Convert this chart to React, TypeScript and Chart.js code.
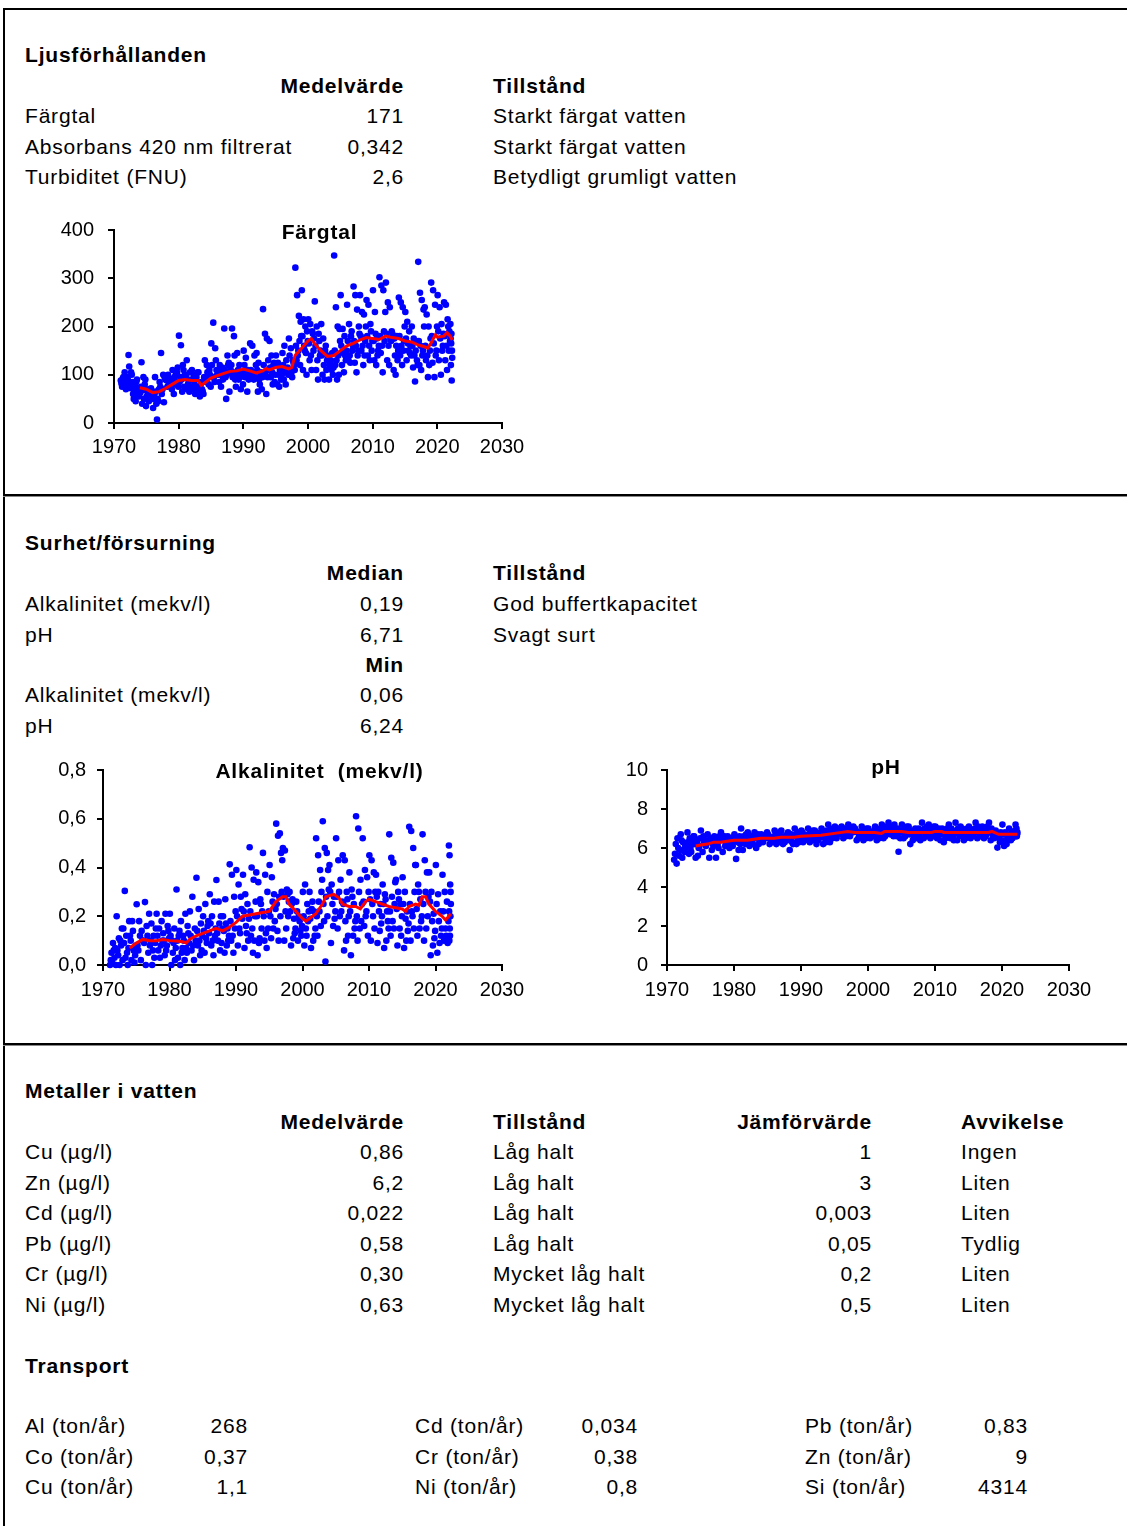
import React, { useEffect, useRef } from "react";
import { Chart, registerables } from "chart.js";

Chart.register(...registerables);

const FONT = '"Liberation Sans", Arial, Helvetica, sans-serif';
const PAGE_W = 1127;
const PAGE_H = 1526;

// ---------- tick labels ----------
const yearTicks = [1970, 1980, 1990, 2000, 2010, 2020, 2030];
const fargtalTicks = [0, 100, 200, 300, 400];
const alkTicks = [0, 0.2, 0.4, 0.6, 0.8];
const phTicks = [0, 2, 4, 6, 8, 10];

// ---------- table texts ----------
const ljusRows = [
  ["Färgtal", "171", "Starkt färgat vatten"],
  ["Absorbans 420 nm filtrerat", "0,342", "Starkt färgat vatten"],
  ["Turbiditet (FNU)", "2,6", "Betydligt grumligt vatten"],
];
const surhetMedianRows = [
  ["Alkalinitet (mekv/l)", "0,19", "God buffertkapacitet"],
  ["pH", "6,71", "Svagt surt"],
];
const surhetMinRows = [
  ["Alkalinitet (mekv/l)", "0,06"],
  ["pH", "6,24"],
];
const metallRows = [
  ["Cu (µg/l)", "0,86", "Låg halt", "1", "Ingen"],
  ["Zn (µg/l)", "6,2", "Låg halt", "3", "Liten"],
  ["Cd (µg/l)", "0,022", "Låg halt", "0,003", "Liten"],
  ["Pb (µg/l)", "0,58", "Låg halt", "0,05", "Tydlig"],
  ["Cr (µg/l)", "0,30", "Mycket låg halt", "0,2", "Liten"],
  ["Ni (µg/l)", "0,63", "Mycket låg halt", "0,5", "Liten"],
];
const transportRows = [
  ["Al (ton/år)", "268", "Cd (ton/år)", "0,034", "Pb (ton/år)", "0,83"],
  ["Co (ton/år)", "0,37", "Cr (ton/år)", "0,38", "Zn (ton/år)", "9"],
  ["Cu (ton/år)", "1,1", "Ni (ton/år)", "0,8", "Si (ton/år)", "4314"],
];

// ---------- series: samples per year (spread through the year) ----------
const LAST_YEAR = 2022;
const LAST_YEAR_SPAN = 0.32;

const fargtalSamples: [number, number[]][] = [
  [1971, [88, 82, 75, 92, 95, 80, 105, 78, 70, 85]],
  [1972, [95, 90, 141, 117, 78, 72, 105, 100, 85, 60]],
  [1973, [50, 65, 75, 45, 85, 90, 60, 58, 55, 70]],
  [1974, [62, 75, 126, 40, 68, 95, 50, 80, 90, 35]],
  [1975, [55, 65, 70, 45, 62, 60, 72, 58, 50]],
  [1976, [31, 55, 60, 95, 65, 40, 7, 50, 45, 70]],
  [1977, [85, 75, 145, 60, 70, 100, 43, 95, 90]],
  [1978, [95, 88, 75, 100, 78, 80, 92, 90, 85, 70]],
  [1979, [110, 90, 60, 95, 80, 100, 85, 105, 115, 75]],
  [1980, [181, 85, 95, 161, 90, 65, 120, 110, 75, 100]],
  [1981, [100, 95, 130, 70, 80, 85, 65, 105, 75, 90]],
  [1982, [110, 90, 70, 100, 80, 60, 75, 95, 65, 105]],
  [1983, [105, 75, 55, 80, 85, 70, 65, 60, 95]],
  [1984, [130, 90, 85, 120, 105, 95, 80, 110, 100, 75]],
  [1985, [165, 120, 95, 208, 95, 85, 155, 130, 110, 100]],
  [1986, [100, 105, 85, 120, 100, 75, 110, 115, 90, 95]],
  [1987, [196, 110, 95, 50, 100, 140, 120, 125, 65, 105]],
  [1988, [110, 120, 196, 95, 105, 180, 140, 90, 75, 100]],
  [1989, [145, 110, 90, 120, 95, 70, 100, 105, 80]],
  [1990, [150, 120, 95, 135, 105, 65, 110, 90, 100]],
  [1991, [165, 110, 100, 160, 105, 90, 140, 95, 120]],
  [1992, [145, 110, 65, 125, 90, 80, 100, 105, 70, 95]],
  [1993, [236, 120, 100, 185, 105, 60, 175, 95, 130, 110]],
  [1994, [170, 115, 95, 140, 105, 80, 120, 125, 85, 100]],
  [1995, [140, 120, 80, 125, 100, 75, 110, 115, 90, 100]],
  [1996, [145, 120, 90, 160, 110, 80, 130, 105, 115, 100]],
  [1997, [175, 140, 100, 155, 105, 95, 130, 125, 120, 110]],
  [1998, [322, 160, 130, 265, 140, 150, 222, 170, 120, 210, 180]],
  [1999, [275, 180, 110, 215, 160, 150, 200, 145, 100, 190, 170]],
  [2000, [215, 165, 130, 205, 140, 110, 190, 185, 150, 175]],
  [2001, [252, 160, 110, 200, 130, 90, 185, 170, 140, 150]],
  [2002, [205, 140, 100, 175, 120, 90, 150, 160, 110, 130]],
  [2003, [140, 135, 90, 120, 125, 130, 110, 145, 100, 115]],
  [2004, [347, 150, 120, 240, 130, 90, 200, 140, 100, 195, 170]],
  [2005, [265, 160, 120, 195, 145, 105, 180, 140, 130, 150]],
  [2006, [245, 170, 130, 205, 140, 125, 180, 190, 150, 160]],
  [2007, [283, 170, 125, 265, 160, 105, 235, 140, 150, 200, 185]],
  [2008, [265, 180, 150, 230, 160, 120, 225, 140, 170, 200]],
  [2009, [255, 180, 140, 245, 160, 130, 205, 190, 150, 170]],
  [2010, [275, 170, 130, 230, 185, 120, 175, 140, 150, 160]],
  [2011, [302, 180, 145, 285, 160, 105, 275, 190, 170, 230]],
  [2012, [291, 185, 130, 250, 160, 120, 240, 175, 170, 190]],
  [2013, [185, 175, 110, 175, 140, 100, 160, 180, 130, 150]],
  [2014, [260, 180, 140, 250, 160, 120, 240, 150, 170, 200]],
  [2015, [230, 175, 130, 210, 165, 150, 190, 145, 160, 140]],
  [2016, [200, 160, 115, 175, 140, 86, 150, 170, 130, 120]],
  [2017, [334, 170, 120, 270, 160, 110, 255, 140, 150, 235, 200]],
  [2018, [240, 160, 130, 225, 140, 95, 200, 120, 150, 175]],
  [2019, [291, 180, 125, 275, 165, 95, 245, 140, 150, 200]],
  [2020, [265, 190, 130, 240, 175, 100, 205, 150, 160, 185]],
  [2021, [250, 180, 130, 245, 160, 110, 215, 200, 150, 190, 170]],
  [2022, [205, 175, 120, 165, 185, 88, 150, 135]],
];

const fargtalTrend: [number, number][] = [
  [1974.0, 73], [1975.0, 70], [1976.0, 63], [1977.0, 65], [1978.0, 72], [1979.0, 80],
  [1980.0, 88], [1981.0, 90], [1982.0, 88], [1983.0, 88], [1983.5, 78], [1984.0, 83],
  [1985.0, 93], [1986.0, 98], [1987.0, 103], [1988.0, 107], [1989.0, 108], [1990.0, 112],
  [1991.0, 108], [1992.0, 104], [1993.0, 108], [1993.5, 113], [1994.0, 110], [1995.0, 115],
  [1996.0, 117], [1997.0, 112], [1997.5, 115], [1998.0, 140], [1999.0, 155], [2000.0, 170],
  [2000.5, 175], [2001.0, 165], [2002.0, 150], [2003.0, 138], [2004.0, 140], [2004.5, 145],
  [2005.0, 150], [2006.0, 160], [2007.0, 165], [2008.0, 172], [2009.0, 177], [2010.0, 175],
  [2011.0, 173], [2012.0, 180], [2013.0, 177], [2014.0, 175], [2015.0, 170], [2016.0, 168],
  [2017.0, 162], [2018.0, 158], [2018.5, 155], [2019.0, 165], [2019.7, 183], [2020.0, 178],
  [2021.0, 180], [2021.5, 187], [2022.0, 180], [2022.3, 172],
];

const alkSamples: [number, number[]][] = [
  [1971, [0.0, 0.02, 0.05, 0.01, 0.09, 0.06, 0.03, 0.07, 0.0]],
  [1972, [0.2, 0.06, 0.04, 0.11, 0.0, 0.1, 0.08, 0.15, 0.02]],
  [1973, [0.15, 0.09, 0.304, 0.03, 0.12, 0.05, 0.0, 0.07, 0.18]],
  [1974, [0.12, 0.1, 0.02, 0.18, 0.14, 0.06, 0.01, 0.04, 0.08]],
  [1975, [0.249, 0.08, 0.06, 0.18, 0.12, 0.02, 0.14, 0.1]],
  [1976, [0.1, 0.09, 0.258, 0.0, 0.16, 0.12, 0.05, 0.21]],
  [1977, [0.08, 0.1, 0.17, 0.0, 0.06, 0.12, 0.03, 0.09, 0.15]],
  [1978, [0.21, 0.12, 0.06, 0.15, 0.03, 0.08, 0.18, 0.1]],
  [1979, [0.13, 0.1, 0.04, 0.21, 0.06, 0.08, 0.16, 0.14, 0.11]],
  [1980, [0.21, 0.12, 0.0, 0.1, 0.05, 0.09, 0.15, 0.02, 0.07]],
  [1981, [0.31, 0.1, 0.03, 0.12, 0.14, 0.0, 0.18, 0.05, 0.07]],
  [1982, [0.12, 0.1, 0.02, 0.21, 0.07, 0.05, 0.16, 0.13, 0.09]],
  [1983, [0.22, 0.12, 0.06, 0.28, 0.08, 0.02, 0.15, 0.1]],
  [1984, [0.358, 0.14, 0.08, 0.23, 0.1, 0.04, 0.17, 0.06, 0.12]],
  [1985, [0.2, 0.14, 0.05, 0.25, 0.11, 0.09, 0.16, 0.18, 0.13]],
  [1986, [0.29, 0.17, 0.08, 0.2, 0.1, 0.04, 0.26, 0.12, 0.15]],
  [1987, [0.349, 0.13, 0.1, 0.26, 0.17, 0.06, 0.2, 0.09, 0.15]],
  [1988, [0.2, 0.14, 0.05, 0.27, 0.17, 0.08, 0.15, 0.1, 0.12]],
  [1989, [0.413, 0.18, 0.1, 0.37, 0.12, 0.05, 0.28, 0.15, 0.22]],
  [1990, [0.39, 0.2, 0.08, 0.33, 0.15, 0.13, 0.28, 0.23, 0.19]],
  [1991, [0.37, 0.22, 0.07, 0.29, 0.16, 0.13, 0.25, 0.1, 0.19]],
  [1992, [0.483, 0.22, 0.12, 0.4, 0.15, 0.05, 0.35, 0.1, 0.2, 0.26]],
  [1993, [0.38, 0.2, 0.04, 0.34, 0.09, 0.11, 0.27, 0.25, 0.15, 0.22]],
  [1994, [0.46, 0.2, 0.1, 0.37, 0.13, 0.07, 0.3, 0.15, 0.22]],
  [1995, [0.41, 0.2, 0.11, 0.36, 0.26, 0.15, 0.29, 0.18, 0.23]],
  [1996, [0.58, 0.25, 0.14, 0.53, 0.1, 0.28, 0.54, 0.2, 0.46, 0.3, 0.43]],
  [1997, [0.48, 0.28, 0.1, 0.47, 0.22, 0.15, 0.31, 0.29, 0.2, 0.26]],
  [1998, [0.3, 0.22, 0.08, 0.25, 0.27, 0.11, 0.19, 0.13, 0.15]],
  [1999, [0.26, 0.22, 0.1, 0.2, 0.18, 0.14, 0.12, 0.16]],
  [2000, [0.3, 0.2, 0.08, 0.33, 0.15, 0.12, 0.25, 0.18, 0.22]],
  [2001, [0.3, 0.19, 0.07, 0.23, 0.26, 0.1, 0.22, 0.12, 0.15]],
  [2002, [0.52, 0.2, 0.12, 0.45, 0.26, 0.22, 0.39, 0.16, 0.3, 0.35]],
  [2003, [0.59, 0.25, 0.18, 0.48, 0.014, 0.28, 0.46, 0.2, 0.39, 0.31]],
  [2004, [0.41, 0.3, 0.09, 0.33, 0.25, 0.16, 0.28, 0.19, 0.22]],
  [2005, [0.52, 0.28, 0.15, 0.43, 0.3, 0.2, 0.35, 0.22, 0.26]],
  [2006, [0.45, 0.25, 0.06, 0.43, 0.18, 0.1, 0.3, 0.27, 0.12, 0.2]],
  [2007, [0.38, 0.22, 0.04, 0.31, 0.28, 0.12, 0.25, 0.15, 0.18]],
  [2008, [0.61, 0.2, 0.1, 0.56, 0.3, 0.15, 0.35, 0.18, 0.25]],
  [2009, [0.52, 0.26, 0.16, 0.39, 0.2, 0.22, 0.36, 0.12, 0.3]],
  [2010, [0.45, 0.27, 0.1, 0.43, 0.25, 0.2, 0.38, 0.15, 0.3]],
  [2011, [0.37, 0.28, 0.09, 0.3, 0.22, 0.14, 0.25, 0.17, 0.2]],
  [2012, [0.33, 0.25, 0.07, 0.29, 0.27, 0.1, 0.22, 0.18, 0.15]],
  [2013, [0.536, 0.22, 0.12, 0.44, 0.28, 0.18, 0.42, 0.15, 0.25, 0.34]],
  [2014, [0.35, 0.23, 0.08, 0.3, 0.27, 0.15, 0.25, 0.12, 0.2]],
  [2015, [0.36, 0.25, 0.07, 0.3, 0.19, 0.1, 0.22, 0.14, 0.17]],
  [2016, [0.567, 0.25, 0.1, 0.55, 0.22, 0.2, 0.48, 0.15, 0.3, 0.41]],
  [2017, [0.41, 0.23, 0.12, 0.33, 0.3, 0.15, 0.27, 0.18, 0.2]],
  [2018, [0.536, 0.25, 0.1, 0.43, 0.3, 0.15, 0.38, 0.2, 0.28]],
  [2019, [0.38, 0.26, 0.04, 0.3, 0.18, 0.08, 0.21, 0.11, 0.14]],
  [2020, [0.41, 0.25, 0.05, 0.29, 0.18, 0.09, 0.22, 0.12, 0.15]],
  [2021, [0.37, 0.22, 0.1, 0.3, 0.15, 0.12, 0.26, 0.09, 0.18]],
  [2022, [0.49, 0.22, 0.1, 0.45, 0.15, 0.12, 0.33, 0.2, 0.3, 0.25]],
];

const alkTrend: [number, number][] = [
  [1974.0, 0.07], [1975.0, 0.09], [1976.0, 0.105], [1977.0, 0.1], [1978.0, 0.1], [1979.0, 0.105],
  [1980.0, 0.1], [1981.0, 0.098], [1982.0, 0.095], [1982.5, 0.09], [1983.0, 0.105], [1984.0, 0.12],
  [1985.0, 0.13], [1986.0, 0.14], [1987.0, 0.15], [1988.0, 0.14], [1989.0, 0.155], [1990.0, 0.175],
  [1991.0, 0.2], [1992.0, 0.205], [1993.0, 0.21], [1994.0, 0.215], [1995.0, 0.22], [1996.0, 0.26],
  [1997.0, 0.28], [1997.5, 0.28], [1998.0, 0.25], [1999.0, 0.22], [2000.0, 0.19], [2000.5, 0.18],
  [2001.0, 0.19], [2002.0, 0.21], [2003.0, 0.25], [2003.5, 0.28], [2004.7, 0.29], [2005.5, 0.275],
  [2006.0, 0.25], [2007.0, 0.24], [2008.0, 0.24], [2008.7, 0.23], [2009.5, 0.26], [2010.0, 0.27],
  [2011.0, 0.26], [2012.0, 0.25], [2013.0, 0.24], [2014.0, 0.235], [2015.0, 0.23], [2015.5, 0.22],
  [2016.0, 0.24], [2017.0, 0.25], [2017.5, 0.245], [2018.0, 0.28], [2018.5, 0.28], [2019.0, 0.25],
  [2020.0, 0.22], [2021.0, 0.2], [2021.5, 0.185], [2022.0, 0.2], [2022.3, 0.21],
];

const phSamples: [number, number[]][] = [
  [1971, [5.4, 5.7, 6.2, 5.2, 6.5, 6.0, 5.6, 5.9]],
  [1972, [6.7, 6.4, 5.5, 6.3, 5.9, 5.8, 6.1, 6.0, 6.2]],
  [1973, [6.8, 6.3, 5.7, 6.5, 6.0, 5.8, 6.4, 6.2, 6.6]],
  [1974, [6.6, 6.2, 5.5, 6.4, 6.3, 5.6, 6.0, 6.1, 6.5]],
  [1975, [6.9, 6.5, 5.8, 6.6, 6.3, 6.2, 6.1, 6.4]],
  [1976, [6.7, 6.3, 5.5, 6.4, 6.5, 5.9, 6.2, 6.1]],
  [1977, [6.6, 6.4, 5.5, 6.3, 6.2, 6.0, 6.6, 6.5]],
  [1978, [6.8, 6.4, 5.8, 6.5, 6.6, 6.1, 6.2, 6.3]],
  [1979, [6.6, 6.3, 6.0, 6.4, 6.5, 6.2, 6.1, 6.5]],
  [1980, [6.7, 6.5, 5.44, 6.4, 6.3, 5.9, 6.6, 6.2]],
  [1981, [7.0, 6.5, 5.9, 6.6, 6.3, 6.2, 6.7, 6.4]],
  [1982, [6.8, 6.4, 6.1, 6.5, 6.6, 6.3, 6.2, 6.6]],
  [1983, [6.8, 6.5, 6.0, 6.6, 6.7, 6.2, 6.3, 6.4]],
  [1984, [6.7, 6.4, 6.3, 6.5, 6.6, 6.6, 6.5, 6.8]],
  [1985, [6.7, 6.6, 6.2, 6.5, 6.3, 6.4, 6.5, 6.6]],
  [1986, [6.9, 6.6, 6.2, 6.7, 6.4, 6.3, 6.8, 6.5]],
  [1987, [6.9, 6.5, 6.2, 6.6, 6.3, 6.4, 6.6, 6.7]],
  [1988, [6.8, 6.4, 5.9, 6.5, 6.7, 6.3, 6.2, 6.6]],
  [1989, [7.0, 6.6, 6.2, 6.8, 6.4, 6.3, 6.7, 6.5]],
  [1990, [6.9, 6.8, 6.3, 6.7, 6.4, 6.5, 6.6, 6.6]],
  [1991, [7.0, 6.7, 6.3, 6.8, 6.5, 6.4, 6.9, 6.6]],
  [1992, [6.9, 6.6, 6.2, 6.7, 6.4, 6.5, 6.7, 6.8]],
  [1993, [7.0, 6.7, 6.2, 6.8, 6.5, 6.3, 6.9, 6.6]],
  [1994, [7.2, 6.6, 6.3, 7.0, 6.9, 6.5, 6.7, 6.8]],
  [1995, [7.1, 6.6, 6.5, 6.9, 7.0, 6.7, 6.8, 6.8]],
  [1996, [7.1, 6.8, 6.5, 6.9, 7.0, 6.6, 6.7, 6.7]],
  [1997, [7.2, 6.7, 6.6, 7.0, 6.9, 6.8, 7.1, 6.9]],
  [1998, [7.0, 6.9, 6.4, 6.8, 6.5, 6.6, 6.8, 6.7]],
  [1999, [7.1, 6.8, 6.4, 6.9, 6.6, 6.5, 7.0, 6.7]],
  [2000, [7.0, 6.7, 6.5, 6.8, 6.8, 6.6, 6.6, 6.9]],
  [2001, [7.1, 6.8, 6.4, 6.9, 6.6, 6.5, 7.0, 6.7]],
  [2002, [7.2, 6.8, 6.5, 7.0, 6.6, 6.7, 7.1, 6.9]],
  [2003, [7.3, 6.8, 6.7, 7.1, 7.0, 6.9, 6.6, 7.2]],
  [2004, [7.0, 6.7, 6.6, 7.0, 5.81, 6.8, 6.5, 6.9]],
  [2005, [7.2, 6.8, 6.5, 7.0, 6.6, 6.7, 7.1, 6.9]],
  [2006, [7.1, 6.7, 6.2, 6.9, 6.8, 6.4, 6.5, 6.6]],
  [2007, [7.0, 6.7, 6.5, 6.8, 7.0, 6.6, 6.4, 6.9]],
  [2008, [7.3, 6.9, 6.5, 7.0, 6.7, 6.6, 7.1, 6.8]],
  [2009, [7.2, 6.9, 6.5, 7.0, 6.7, 6.6, 7.1, 6.8]],
  [2010, [7.1, 6.6, 6.5, 6.9, 7.0, 6.7, 6.4, 6.8]],
  [2011, [7.0, 6.7, 6.3, 6.8, 6.5, 6.6, 7.0, 6.9]],
  [2012, [7.2, 6.9, 6.5, 7.0, 6.7, 6.6, 6.4, 6.8]],
  [2013, [7.3, 6.9, 6.4, 7.0, 6.7, 6.6, 7.1, 6.8]],
  [2014, [7.0, 6.7, 6.4, 6.8, 6.5, 6.6, 7.0, 6.9]],
  [2015, [7.1, 6.8, 6.5, 6.9, 6.6, 6.7, 6.9, 7.0]],
  [2016, [7.3, 6.8, 6.5, 7.1, 7.0, 6.9, 6.6, 6.7]],
  [2017, [7.1, 6.8, 6.5, 6.9, 6.6, 6.7, 7.1, 7.0]],
  [2018, [7.3, 6.9, 6.4, 7.0, 6.7, 6.6, 6.5, 6.8]],
  [2019, [6.9, 6.7, 6.02, 6.6, 6.5, 6.3, 6.8, 6.4]],
  [2020, [7.2, 6.7, 6.1, 6.8, 6.4, 6.2, 6.6, 6.5]],
  [2021, [7.0, 6.7, 6.4, 6.8, 6.5, 6.6, 6.8, 6.9]],
  [2022, [7.2, 6.9, 6.6, 7.0, 6.6, 6.7, 6.8]],
];

const phTrend: [number, number][] = [
  [1974.3, 6.1], [1975.0, 6.15], [1976.0, 6.2], [1977.0, 6.3], [1978.0, 6.3], [1979.0, 6.35],
  [1980.0, 6.4], [1982.0, 6.4], [1983.0, 6.45], [1984.0, 6.5], [1986.0, 6.5], [1987.0, 6.55],
  [1989.0, 6.55], [1990.0, 6.6], [1993.0, 6.65], [1995.0, 6.75], [1997.0, 6.85], [1998.0, 6.8],
  [2001.0, 6.8], [2002.0, 6.75], [2002.5, 6.85], [2005.0, 6.85], [2006.0, 6.8], [2009.5, 6.8],
  [2010.0, 6.85], [2011.0, 6.85], [2011.3, 6.8], [2018.0, 6.8], [2018.5, 6.85], [2019.5, 6.7],
  [2022.3, 6.7],
];

type Area = { left: number; top: number; right: number; bottom: number };

type ScatterProps = {
  left: number;
  top: number;
  width: number;
  height: number;
  area: Area;
  samples: [number, number[]][];
  trend: [number, number][];
  yTicks: number[];
  yFormat: (v: number) => string;
  yPad: number;
  xPad: number;
};

function ScatterChart(p: ScatterProps) {
  const ref = useRef<HTMLCanvasElement | null>(null);
  useEffect(() => {
    if (!ref.current) return;
    const pts = p.samples.flatMap(([year, vals]) =>
      vals.map((v, i) => ({
        x: year + ((i + 0.5) / vals.length) * (year === LAST_YEAR ? LAST_YEAR_SPAN : 1),
        y: v,
      }))
    );
    const yMin = p.yTicks[0];
    const yMax = p.yTicks[p.yTicks.length - 1];
    const tickFont = { family: FONT, size: 20 };
    const chart = new Chart(ref.current, {
      type: "scatter",
      data: {
        datasets: [
          {
            type: "line",
            data: p.trend.map(([x, y]) => ({ x, y })),
            borderColor: "#FF0000",
            backgroundColor: "#FF0000",
            borderWidth: 3,
            pointRadius: 0,
            fill: false,
            tension: 0,
            order: 0,
            clip: false,
          } as any,
          {
            data: pts,
            backgroundColor: "#0000FF",
            borderColor: "#0000FF",
            borderWidth: 0,
            pointRadius: 3.3,
            order: 1,
            clip: false,
          } as any,
        ],
      },
      options: {
        animation: false,
        responsive: false,
        maintainAspectRatio: false,
        devicePixelRatio: 1,
        events: [],
        layout: {
          padding: {
            left: 0,
            top: p.area.top - p.top,
            right: p.left + p.width - p.area.right,
            bottom: 0,
          },
        },
        plugins: {
          legend: { display: false },
          tooltip: { enabled: false },
          title: { display: false },
        },
        scales: {
          x: {
            type: "linear",
            min: 1970,
            max: 2030,
            afterBuildTicks: (s: any) => {
              s.ticks = yearTicks.map((v) => ({ value: v }));
            },
            afterFit: (s: any) => {
              s.height = p.top + p.height - p.area.bottom;
            },
            ticks: {
              color: "#000",
              font: tickFont,
              padding: p.xPad,
              maxRotation: 0,
              autoSkip: false,
              callback: (v: any) => String(v),
            },
            grid: {
              drawOnChartArea: false,
              drawTicks: true,
              tickLength: 6,
              color: "#000",
              lineWidth: 2,
            },
            border: { display: true, color: "#000", width: 2 },
          },
          y: {
            type: "linear",
            min: yMin,
            max: yMax,
            afterBuildTicks: (s: any) => {
              s.ticks = p.yTicks.map((v) => ({ value: v }));
            },
            afterFit: (s: any) => {
              s.width = p.area.left - p.left;
              s.paddingTop = 0;
              s.paddingBottom = 0;
            },
            ticks: {
              color: "#000",
              font: tickFont,
              padding: p.yPad,
              autoSkip: false,
              callback: (v: any) => p.yFormat(Number(v)),
            },
            grid: {
              drawOnChartArea: false,
              drawTicks: true,
              tickLength: 6,
              color: "#000",
              lineWidth: 2,
            },
            border: { display: true, color: "#000", width: 2 },
          },
        },
      } as any,
    });
    return () => chart.destroy();
  }, []);
  return (
    <canvas
      ref={ref}
      width={p.width}
      height={p.height}
      style={{ position: "absolute", left: p.left, top: p.top, width: p.width, height: p.height }}
    />
  );
}

const baseText: React.CSSProperties = {
  position: "absolute",
  fontFamily: FONT,
  fontSize: 21,
  letterSpacing: "0.8px",
  lineHeight: "24px",
  whiteSpace: "pre",
  color: "#000",
};

function T(props: { x: number; y: number; align?: "left" | "right" | "center"; bold?: boolean; children: React.ReactNode }) {
  const { x, y, align = "left", bold = false } = props;
  const style: React.CSSProperties = { ...baseText, top: y - 12, fontWeight: bold ? "bold" : "normal" };
  if (align === "right") {
    style.right = PAGE_W - x;
    style.textAlign = "right";
  } else if (align === "center") {
    style.left = x - 300;
    style.width = 600;
    style.textAlign = "center";
  } else {
    style.left = x;
  }
  return <div style={style}>{props.children}</div>;
}

const fmtInt = (v: number) => String(Math.round(v));
const fmtDec1 = (v: number) => v.toFixed(1).replace(".", ",");

export default function App() {
  useEffect(() => {
    document.body.style.margin = "0";
  }, []);

  const colLabel = 25;
  const colValueRight = 404;
  const colState = 493;
  const colCmpRight = 872;
  const colDev = 961;

  return (
    <div
      style={{
        position: "absolute",
        left: 0,
        top: 0,
        width: PAGE_W,
        height: PAGE_H,
        overflow: "hidden",
        background: "#fff",
      }}
    >
      {/* frame lines */}
      <div style={{ position: "absolute", left: 3, top: 8, width: PAGE_W - 3, height: 2, background: "#000" }} />
      <div style={{ position: "absolute", left: 3, top: 8, width: 1.5, height: PAGE_H - 8, background: "#000" }} />
      <div style={{ position: "absolute", left: 3, top: 494, width: PAGE_W - 3, height: 2, background: "#000" }} />
      <div style={{ position: "absolute", left: 3, top: 496, width: PAGE_W - 3, height: 1, background: "#888" }} />
      <div style={{ position: "absolute", left: 3, top: 1043, width: PAGE_W - 3, height: 2, background: "#000" }} />
      <div style={{ position: "absolute", left: 3, top: 1045, width: PAGE_W - 3, height: 1, background: "#888" }} />

      {/* Section 1 */}
      <T x={colLabel} y={55} bold>Ljusförhållanden</T>
      <T x={colValueRight} y={86} align="right" bold>Medelvärde</T>
      <T x={colState} y={86} bold>Tillstånd</T>
      {ljusRows.map((r, i) => {
        const y = 116 + i * 30.5;
        return (
          <React.Fragment key={"l" + i}>
            <T x={colLabel} y={y}>{r[0]}</T>
            <T x={colValueRight} y={y} align="right">{r[1]}</T>
            <T x={colState} y={y}>{r[2]}</T>
          </React.Fragment>
        );
      })}

      <ScatterChart
        left={40}
        top={215}
        width={500}
        height={250}
        area={{ left: 114, top: 230, right: 502, bottom: 423 }}
        samples={fargtalSamples}
        trend={fargtalTrend}
        yTicks={fargtalTicks}
        yFormat={fmtInt}
        yPad={14}
        xPad={6}
      />
      <T x={319.5} y={232} align="center" bold>Färgtal</T>

      {/* Section 2 */}
      <T x={colLabel} y={543} bold>Surhet/försurning</T>
      <T x={colValueRight} y={573} align="right" bold>Median</T>
      <T x={colState} y={573} bold>Tillstånd</T>
      {surhetMedianRows.map((r, i) => {
        const y = 604 + i * 30.5;
        return (
          <React.Fragment key={"s" + i}>
            <T x={colLabel} y={y}>{r[0]}</T>
            <T x={colValueRight} y={y} align="right">{r[1]}</T>
            <T x={colState} y={y}>{r[2]}</T>
          </React.Fragment>
        );
      })}
      <T x={colValueRight} y={665} align="right" bold>Min</T>
      {surhetMinRows.map((r, i) => {
        const y = 695 + i * 30.5;
        return (
          <React.Fragment key={"m" + i}>
            <T x={colLabel} y={y}>{r[0]}</T>
            <T x={colValueRight} y={y} align="right">{r[1]}</T>
          </React.Fragment>
        );
      })}

      <ScatterChart
        left={30}
        top={755}
        width={520}
        height={250}
        area={{ left: 103, top: 770, right: 502, bottom: 965 }}
        samples={alkSamples}
        trend={alkTrend}
        yTicks={alkTicks}
        yFormat={fmtDec1}
        yPad={11}
        xPad={7}
      />
      <T x={319.5} y={771} align="center" bold>Alkalinitet  (mekv/l)</T>

      <ScatterChart
        left={595}
        top={755}
        width={515}
        height={250}
        area={{ left: 667, top: 770, right: 1069, bottom: 965 }}
        samples={phSamples}
        trend={phTrend}
        yTicks={phTicks}
        yFormat={fmtInt}
        yPad={13}
        xPad={7}
      />
      <T x={886} y={767} align="center" bold>pH</T>

      {/* Section 3 */}
      <T x={colLabel} y={1091} bold>Metaller i vatten</T>
      <T x={colValueRight} y={1122} align="right" bold>Medelvärde</T>
      <T x={colState} y={1122} bold>Tillstånd</T>
      <T x={colCmpRight} y={1122} align="right" bold>Jämförvärde</T>
      <T x={colDev} y={1122} bold>Avvikelse</T>
      {metallRows.map((r, i) => {
        const y = 1152 + i * 30.5;
        return (
          <React.Fragment key={"mt" + i}>
            <T x={colLabel} y={y}>{r[0]}</T>
            <T x={colValueRight} y={y} align="right">{r[1]}</T>
            <T x={colState} y={y}>{r[2]}</T>
            <T x={colCmpRight} y={y} align="right">{r[3]}</T>
            <T x={colDev} y={y}>{r[4]}</T>
          </React.Fragment>
        );
      })}

      <T x={colLabel} y={1366} bold>Transport</T>
      {transportRows.map((r, i) => {
        const y = 1426 + i * 30.5;
        return (
          <React.Fragment key={"t" + i}>
            <T x={25} y={y}>{r[0]}</T>
            <T x={248} y={y} align="right">{r[1]}</T>
            <T x={415} y={y}>{r[2]}</T>
            <T x={638} y={y} align="right">{r[3]}</T>
            <T x={805} y={y}>{r[4]}</T>
            <T x={1028} y={y} align="right">{r[5]}</T>
          </React.Fragment>
        );
      })}
    </div>
  );
}
